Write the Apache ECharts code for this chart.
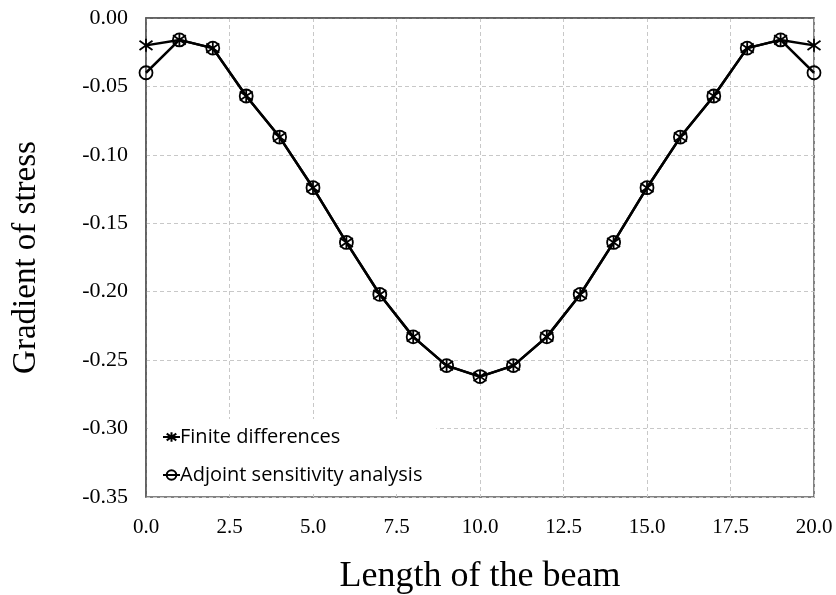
<!DOCTYPE html>
<html>
<head>
<meta charset="utf-8">
<script src="https://cdn.jsdelivr.net/npm/echarts@6/dist/echarts.min.js"></script>
<style>html,body{margin:0;padding:0;background:#fff}#c{width:836px;height:595px}</style>
</head>
<body>
<div id="c"></div>
<script>
var positions = [0,1,2,3,4,5,6,7,8,9,10,11,12,13,14,15,16,17,18,19,20];
var finiteDifferences = [-0.020,-0.016,-0.022,-0.057,-0.087,-0.124,-0.164,-0.202,-0.233,-0.254,-0.262,-0.254,-0.233,-0.202,-0.164,-0.124,-0.087,-0.057,-0.022,-0.016,-0.020];
var adjointSensitivity = [-0.040,-0.016,-0.022,-0.057,-0.087,-0.124,-0.164,-0.202,-0.233,-0.254,-0.262,-0.254,-0.233,-0.202,-0.164,-0.124,-0.087,-0.057,-0.022,-0.016,-0.040];
var seriesNames = ['Finite differences','Adjoint sensitivity analysis'];

function pairs(xs, ys){ return xs.map(function(x,i){ return [x, ys[i]]; }); }

var starPath = 'path://M10 0 L10 20 M3 3 L17 17 M3 17 L17 3';
var chart = echarts.init(document.getElementById('c'), null, {renderer:'canvas'});
chart.setOption({
  animation:false,
  backgroundColor:'#fff',
  grid:{left:146,right:22,top:18,bottom:98,show:true,borderColor:'#595959',borderWidth:1.5,backgroundColor:'transparent',
    containLabel:false,outerBoundsMode:'none'},
  xAxis:{type:'value',min:0,max:20,interval:2.5,
    name:'Length of the beam',nameLocation:'middle',nameGap:62,
    nameTextStyle:{fontFamily:'Liberation Serif',fontSize:36,color:'#000'},
    axisLine:{show:true,lineStyle:{color:'#595959',width:1.5}},
    axisTick:{show:false},
    axisLabel:{fontFamily:'Liberation Serif',fontSize:21,color:'#000',margin:20,formatter:function(v){return v.toFixed(1);}},
    splitLine:{show:true,lineStyle:{color:'#c8c8c8',type:[4,3],width:1}}
  },
  yAxis:{type:'value',min:-0.35,max:0,interval:0.05,
    name:'Gradient of stress',nameLocation:'middle',nameGap:103,
    nameTextStyle:{fontFamily:'Liberation Serif',fontSize:33,color:'#000'},
    axisLine:{show:true,lineStyle:{color:'#595959',width:1.5}},
    axisTick:{show:false},
    axisLabel:{fontFamily:'Liberation Serif',fontSize:22,color:'#000',margin:18,formatter:function(v){return v.toFixed(2);}},
    splitLine:{show:true,lineStyle:{color:'#c8c8c8',type:[4,3],width:1}}
  },
  legend:{orient:'vertical',left:148,top:419,itemGap:18,itemWidth:17,itemHeight:12,
    backgroundColor:'#fff',padding:[8,14,6,14],
    textStyle:{fontFamily:'Open Sans',fontSize:20,color:'#000',padding:[0,0,0,-5]},
    data:[seriesNames[0],seriesNames[1]]
  },
  series:[
    {name:seriesNames[1],type:'line',data:pairs(positions,adjointSensitivity),
      symbol:'circle',symbolSize:13,showAllSymbol:true,
      lineStyle:{color:'#000',width:2.5},
      itemStyle:{color:'rgba(0,0,0,0)',borderColor:'#000',borderWidth:1.8},
      z:2},
    {name:seriesNames[0],type:'line',data:pairs(positions,finiteDifferences),
      symbol:starPath,symbolSize:13,showAllSymbol:true,
      lineStyle:{color:'#000',width:2.5},
      itemStyle:{color:'rgba(0,0,0,0)',borderColor:'#000',borderWidth:1.8},
      z:3}
  ]
});
</script>
</body>
</html>
